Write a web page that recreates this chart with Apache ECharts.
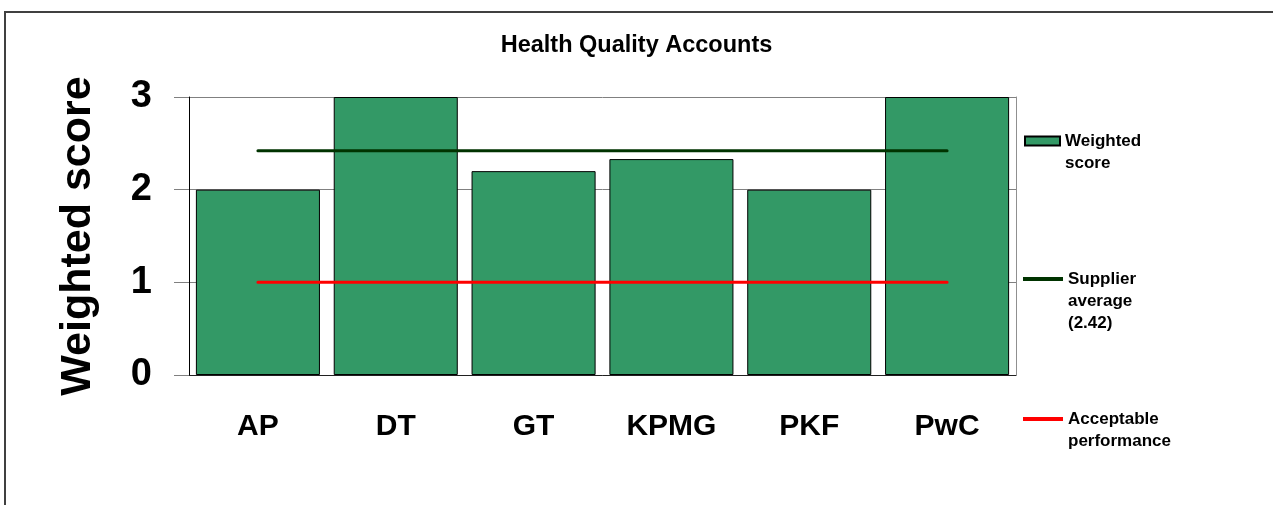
<!DOCTYPE html>
<html>
<head>
<meta charset="utf-8">
<script src="https://cdn.jsdelivr.net/npm/echarts@6/dist/echarts.min.js"></script>
<style>
    html, body { margin: 0; padding: 0; background: #fff; }
    #main { width: 1273px; height: 505px; }
</style>
</head>
<body>
<div id="main"></div>
<script>
    var categories = ['AP', 'DT', 'GT', 'KPMG', 'PKF', 'PwC'];
    var weightedScore = [2, 3, 2.2, 2.33, 2, 3];
    var supplierAverage = [2.42, 2.42, 2.42, 2.42, 2.42, 2.42];
    var acceptable = [1, 1, 1, 1, 1, 1];
    var yTicks = [0, 1, 2, 3];

    var font = 'Arial, "Liberation Sans", sans-serif';
    var myChart = echarts.init(document.getElementById('main'));

    var legendText = {
        fontFamily: font,
        fontWeight: 'bold',
        fontSize: 17,
        lineHeight: 22,
        color: '#000'
    };

    // the icon is centred on the text block, so blank lines on top
    // push the first line level with the icon (like the excel legend)
    function wrapLegend(lines) {
        var pad = [];
        for (var i = 1; i < lines.length; i++) pad.push(' ');
        return pad.concat(lines).join('\n');
    }

    var option = {
        animation: false,
        backgroundColor: '#fff',
        title: {
            text: 'Health Quality Accounts',
            left: 'center',
            top: 29,
            textStyle: { fontFamily: font, fontWeight: 'bold', fontSize: 23.5, color: '#000' }
        },
        graphic: [
            {
                type: 'rect',
                shape: { x: 5, y: 12, width: 1400, height: 600 },
                style: { fill: 'none', stroke: '#404040', lineWidth: 2 },
                silent: true
            }
        ],
        legend: [
            {
                data: [{ name: 'Weighted score', icon: 'rect' }],
                left: 1019,
                top: 103,
                itemWidth: 35,
                itemHeight: 9,
                formatter: function () { return wrapLegend(['Weighted', 'score']); },
                textStyle: legendText
            },
            {
                data: [{ name: 'Supplier average (2.42)', icon: 'rect' }],
                left: 1018,
                top: 219,
                itemWidth: 40,
                itemHeight: 4,
                formatter: function () { return wrapLegend(['Supplier', 'average', '(2.42)']); },
                textStyle: legendText
            },
            {
                data: [{ name: 'Acceptable performance', icon: 'rect' }],
                left: 1018,
                top: 381,
                itemWidth: 40,
                itemHeight: 4,
                formatter: function () { return wrapLegend(['Acceptable', 'performance']); },
                textStyle: legendText
            }
        ],
        grid: {
            left: 189,
            right: 257,
            top: 97,
            bottom: 130
        },
        xAxis: {
            type: 'category',
            data: categories,
            axisLine: { lineStyle: { color: '#202020', width: 1 } },
            axisTick: { length: 10, lineStyle: { color: '#808080' } },
            axisLabel: {
                margin: 37,
                fontFamily: font,
                fontWeight: 'bold',
                fontSize: 30,
                color: '#000'
            }
        },
        yAxis: [
            {
                type: 'value',
                min: yTicks[0],
                max: yTicks[yTicks.length - 1],
                interval: 1,
                name: 'Weighted score',
                nameLocation: 'middle',
                nameGap: 89,
                nameTextStyle: { fontFamily: font, fontWeight: 'bold', fontSize: 43, color: '#000' },
                axisLine: { show: true, lineStyle: { color: '#000', width: 1 } },
                axisTick: { show: true, length: 15, lineStyle: { color: '#808080' } },
                splitLine: { show: true, lineStyle: { color: '#808080', width: 1 } },
                axisLabel: {
                    margin: 37,
                    fontFamily: font,
                    fontWeight: 'bold',
                    fontSize: 38,
                    color: '#000'
                }
            },
            {
                type: 'value',
                position: 'right',
                min: yTicks[0],
                max: yTicks[yTicks.length - 1],
                interval: 1,
                axisLine: { show: true, lineStyle: { color: '#909090', width: 1 } },
                axisTick: { show: false },
                axisLabel: { show: false },
                splitLine: { show: false }
            }
        ],
        series: [
            {
                name: 'Weighted score',
                type: 'bar',
                data: weightedScore,
                barCategoryGap: '10%',
                itemStyle: { color: '#339966', borderColor: '#000', borderWidth: 1 }
            },
            {
                name: 'Supplier average (2.42)',
                type: 'line',
                data: supplierAverage,
                symbol: 'none',
                color: '#003300',
                itemStyle: { color: '#003300' },
                lineStyle: { color: '#003300', width: 3, cap: 'round' }
            },
            {
                name: 'Acceptable performance',
                type: 'line',
                data: acceptable,
                symbol: 'none',
                color: '#ff0000',
                itemStyle: { color: '#ff0000' },
                lineStyle: { color: '#ff0000', width: 3, cap: 'round' }
            }
        ]
    };

    myChart.setOption(option);
</script>
</body>
</html>
